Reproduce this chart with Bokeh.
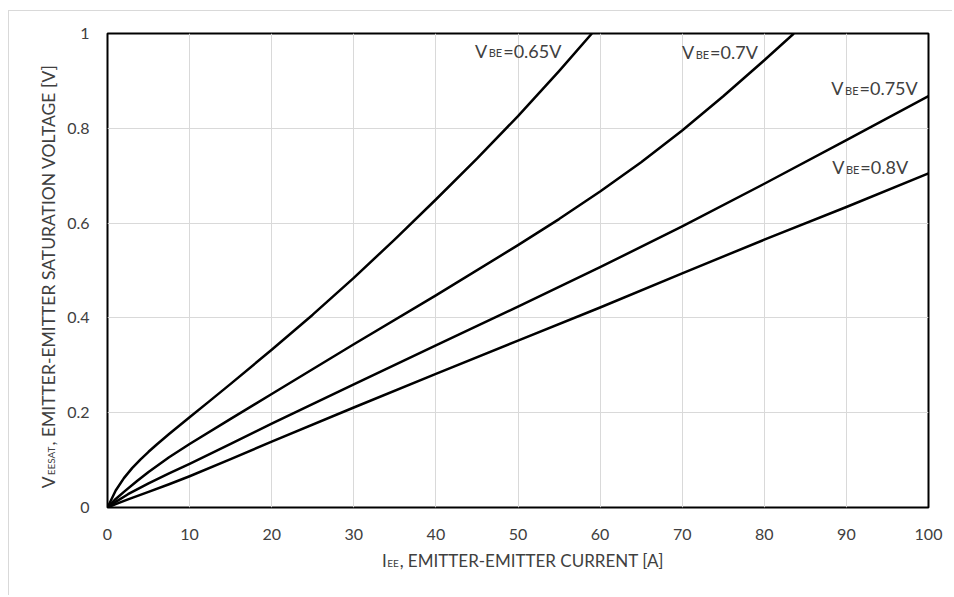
import math
from bokeh.plotting import figure
from bokeh.layouts import row, column
from bokeh.models import Range1d, FixedTicker, NumeralTickFormatter, Label
from bokeh.core.properties import value
from bokeh.embed import file_html
from bokeh.resources import INLINE

# ---- data ----
i_065 = [0, 1, 2, 3, 4, 5, 6, 7.5, 10, 12.5, 15, 20, 25, 30, 35, 40, 45, 50, 55, 59.0]
v_065 = [0, 0.036, 0.062, 0.083, 0.101, 0.1175, 0.133, 0.155, 0.1905, 0.2255, 0.2608,
         0.3328, 0.4068, 0.4843, 0.5658, 0.6498, 0.7358, 0.8258, 0.9208, 1.0]

i_070 = [0, 1, 2, 3.6, 5, 7.5, 10, 15, 20, 30, 40, 50, 55, 60, 65, 70, 75, 80, 83.6]
v_070 = [0, 0.018, 0.033, 0.056, 0.075, 0.106, 0.134, 0.187, 0.2395, 0.3445, 0.4475,
         0.5535, 0.6085, 0.6665, 0.7285, 0.7955, 0.8675, 0.9435, 1.0]

i_075 = [0, 1, 2.5, 5, 7.5, 10, 15, 20, 30, 40, 50, 60, 70, 80, 90, 100]
v_075 = [0, 0.012, 0.028, 0.051, 0.072, 0.092, 0.134, 0.177, 0.260, 0.342, 0.424, 0.507,
         0.593, 0.683, 0.775, 0.868]

i_080 = [0, 1, 2.5, 5, 7.5, 10, 15, 20, 30, 40, 50, 60, 70, 80, 90, 100]
v_080 = [0, 0.007, 0.017, 0.033, 0.049, 0.066, 0.102, 0.139, 0.211, 0.282, 0.352, 0.422,
         0.494, 0.565, 0.634, 0.705]

series_values = ["=0.65V", "=0.7V", "=0.75V", "=0.8V"]

x_ticks = [0, 10, 20, 30, 40, 50, 60, 70, 80, 90, 100]
y_ticks = [0, 0.2, 0.4, 0.6, 0.8, 1.0]

x_title = ("I", "EE", ", EMITTER-EMITTER CURRENT [A]")
y_title = ("V", "EESAT", ", EMITTER-EMITTER SATURATION VOLTAGE [V]")

FONT = "Lato"
TXT = "#404040"

# ---- main chart ----
p = figure(width=888, height=534, x_range=Range1d(0, 100), y_range=Range1d(0, 1),
           output_backend="svg", toolbar_location=None,
           min_border_left=43, min_border_right=24, min_border_top=22, min_border_bottom=38)
p.background_fill_color = "white"
p.border_fill_color = "white"
p.outline_line_color = "black"
p.outline_line_width = 2

for ax in (p.xaxis[0], p.yaxis[0]):
    ax.axis_line_color = None
    ax.major_tick_line_color = None
    ax.minor_tick_line_color = None
    ax.major_tick_out = 0
    ax.major_tick_in = 0
    ax.major_label_text_font = FONT
    ax.major_label_text_font_size = "16px"
    ax.major_label_text_color = TXT
p.xaxis.ticker = FixedTicker(ticks=x_ticks)
p.yaxis.ticker = FixedTicker(ticks=y_ticks)
p.yaxis.formatter = NumeralTickFormatter(format="0.[0]")
p.xaxis.major_label_standoff = 21
p.yaxis.major_label_standoff = 18

p.xgrid.ticker = FixedTicker(ticks=x_ticks)
p.ygrid.ticker = FixedTicker(ticks=y_ticks)
p.grid.grid_line_color = "#d9d9d9"
p.grid.grid_line_width = 1

for xs, ys in ((i_065, v_065), (i_070, v_070), (i_075, v_075), (i_080, v_080)):
    p.line(xs, ys, line_color="black", line_width=2.5, line_join="round")


def curve_label(x, y, rest):
    common = dict(x=x, y=y, text_font=FONT, text_color=TXT, text_baseline="alphabetic")
    p.add_layout(Label(text=rest, text_align="left", text_font_size="18px", **common))
    p.add_layout(Label(text="BE", text_align="right", text_font_size="11px",
                       x_offset=-1, y_offset=-2, **common))
    p.add_layout(Label(text="V", text_align="right", text_font_size="18px",
                       x_offset=-16, **common))


curve_label(48.2, 0.964, series_values[0])
curve_label(73.4, 0.960, series_values[1])
curve_label(91.6, 0.884, series_values[2])
curve_label(91.7, 0.718, series_values[3])


# ---- title strips (pixel coordinates) ----
def strip(w, h):
    f = figure(width=w, height=h, x_range=Range1d(0, w), y_range=Range1d(0, h),
               output_backend="svg", toolbar_location=None,
               x_axis_location=None, y_axis_location=None, min_border=0,
               min_border_left=0, min_border_right=0, min_border_top=0, min_border_bottom=0)
    f.grid.visible = False
    f.outline_line_color = None
    f.background_fill_color = "white"
    f.border_fill_color = "white"
    return f


tstyle = dict(text_font=value(FONT), text_color=TXT, text_baseline="alphabetic")

# y title strip: 55 x 584, text reads bottom -> top
ys_ = strip(55, 584)
yx, yy, w_sub_y = 39, 150, 29
ys_.text(x=[yx], y=[yy], text=[y_title[2]], angle=math.pi / 2, text_align="left",
         text_font_size="17.5px", **tstyle)
ys_.text(x=[yx + 2], y=[yy - 1], text=[y_title[1]], angle=math.pi / 2, text_align="right",
         text_font_size="10px", **tstyle)
ys_.text(x=[yx], y=[yy - w_sub_y - 2], text=[y_title[0]], angle=math.pi / 2, text_align="right",
         text_font_size="17.5px", **tstyle)

# x title strip: 888 x 50
xs_ = strip(888, 50)
xx, xy, w_sub_x = 316, 35, 12
xs_.text(x=[xx], y=[xy], text=[x_title[2]], text_align="left", text_font_size="17px", **tstyle)
xs_.text(x=[xx - 1], y=[xy - 2], text=[x_title[1]], text_align="right", text_font_size="10px", **tstyle)
xs_.text(x=[xx - w_sub_x - 2], y=[xy], text=[x_title[0]], text_align="right",
         text_font_size="17px", **tstyle)

layout = row(ys_, column(p, xs_, spacing=0), spacing=0)
layout.styles = {"margin-left": "8px", "margin-top": "10px",
                 "border-left": "1px solid #d9d9d9", "border-top": "1px solid #d9d9d9"}

open("out.html", "w").write(file_html(layout, INLINE))
